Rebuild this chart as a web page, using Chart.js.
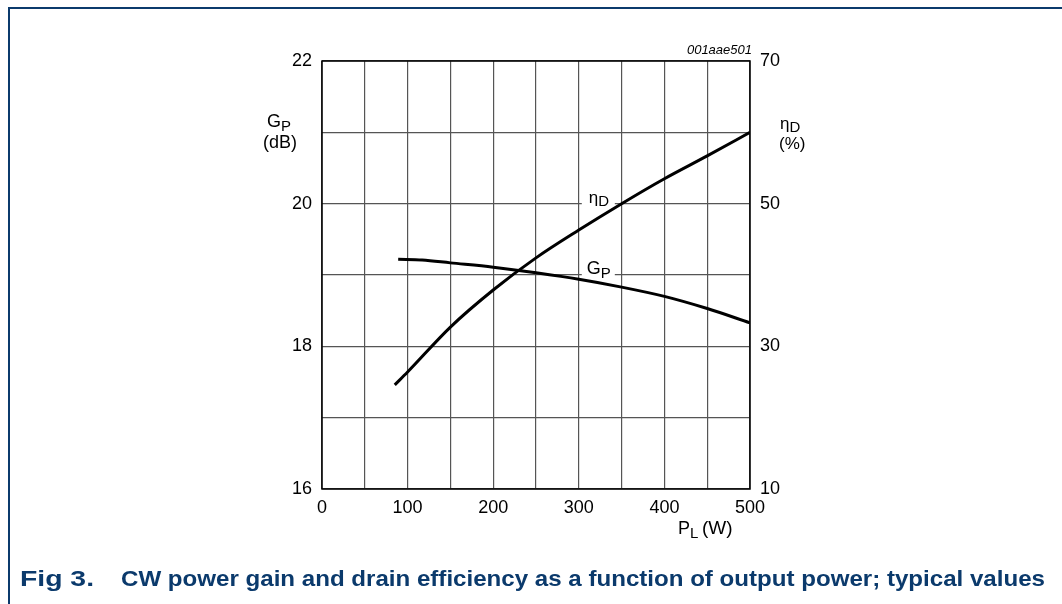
<!DOCTYPE html>
<html>
<head>
<meta charset="utf-8">
<script src="https://cdn.jsdelivr.net/npm/chart.js@4.4.1/dist/chart.umd.min.js"></script>
<style>
  html, body { margin: 0; padding: 0; background: #fff; }
  canvas { display: block; }
</style>
</head>
<body>
<canvas id="myChart" width="1062" height="604"></canvas>
<script>
// values
const plEta = [85, 100, 150, 200, 250, 300, 350, 400, 450, 500];
const eta = [24.6, 26.4, 32.7, 37.9, 42.4, 46.3, 50.0, 53.5, 56.7, 60.0];
const plGp = [89, 117, 150, 200, 250, 300, 350, 400, 450, 500];
const gp = [19.22, 19.21, 19.17, 19.11, 19.03, 18.94, 18.83, 18.70, 18.53, 18.33];

const gpLeftTicks = [16, 18, 20, 22];
const etaRightTicks = [10, 30, 50, 70];

const navy = "#0b3a6c";
const fontFam = "'Liberation Sans', Arial, sans-serif";

Chart.defaults.font.family = fontFam;
Chart.defaults.font.size = 18;
Chart.defaults.color = "#000";

function pts(xs, ys) {
  return xs.map((x, i) => ({ x: x, y: ys[i] }));
}

// text with a subscript, left aligned at x, baseline y
function subText(ctx, main, sub, x, y, size, subSize, drop) {
  ctx.font = size + "px " + fontFam;
  ctx.textAlign = "left";
  ctx.textBaseline = "alphabetic";
  ctx.fillText(main, x, y);
  const w = ctx.measureText(main).width;
  ctx.font = subSize + "px " + fontFam;
  ctx.fillText(sub, x + w, y + drop);
  return w + ctx.measureText(sub).width;
}

// text squeezed or stretched to a given width
function fitText(ctx, txt, x, y, width) {
  ctx.save();
  const w = ctx.measureText(txt).width;
  ctx.translate(x, y);
  ctx.scale(width / w, 1);
  ctx.fillText(txt, 0, 0);
  ctx.restore();
}

const extras = {
  id: "extras",
  beforeDatasetsDraw(chart) {
    const ctx = chart.ctx;
    const a = chart.chartArea;
    const xs = chart.scales.x;
    const ys = chart.scales.y;
    ctx.save();
    // frame of plot
    ctx.strokeStyle = "#000";
    ctx.lineWidth = 1.5;
    ctx.strokeRect(a.left, a.top, a.right - a.left, a.bottom - a.top);

    // curve labels sitting on grid lines
    const lx = xs.getPixelForValue(300);
    ctx.fillStyle = "#fff";
    ctx.fillRect(lx + 3, ys.getPixelForValue(20) - 3, 33, 6);
    ctx.fillRect(lx + 3, ys.getPixelForValue(19) - 3, 33, 6);
    ctx.fillStyle = "#000";
    subText(ctx, "\u03b7", "D", lx + 10, ys.getPixelForValue(20) - 1, 17, 15, 3);
    subText(ctx, "G", "P", lx + 8, ys.getPixelForValue(19) - 1, 18, 15, 4);
    ctx.restore();
  },
  afterDraw(chart) {
    const ctx = chart.ctx;
    const a = chart.chartArea;
    ctx.save();
    ctx.fillStyle = "#000";
    // axis titles
    subText(ctx, "G", "P", a.left - 55, a.top + 66, 18, 15, 4);
    ctx.font = "18px " + fontFam;
    ctx.fillText("(dB)", a.left - 59, a.top + 87);
    subText(ctx, "\u03b7", "D", a.right + 30, a.top + 68, 17, 15, 3);
    ctx.font = "17px " + fontFam;
    ctx.fillText("(%)", a.right + 29, a.top + 88);
    subText(ctx, "P", "L", a.left + 356, a.bottom + 45, 18, 15, 4);
    ctx.font = "19px " + fontFam;
    ctx.fillText("(W)", a.left + 380, a.bottom + 45);

    // figure code
    ctx.font = "italic 13px " + fontFam;
    ctx.textAlign = "right";
    ctx.fillText("001aae501", a.right + 2, a.top - 7);

    // outer page frame
    ctx.strokeStyle = navy;
    ctx.lineWidth = 2;
    ctx.beginPath();
    ctx.moveTo(9, 604);
    ctx.lineTo(9, 8);
    ctx.lineTo(1062, 8);
    ctx.stroke();

    // caption
    ctx.fillStyle = navy;
    ctx.textAlign = "left";
    ctx.font = "bold 22px " + fontFam;
    fitText(ctx, "Fig 3.", 20, 586, 74);
    fitText(ctx, "CW power gain and drain efficiency as a function of output power; typical values", 121, 586, 924);
    ctx.restore();
  }
};

const ctx = document.getElementById("myChart").getContext("2d");
const myChart = new Chart(ctx, {
  type: "line",
  data: {
    datasets: [
      {
        label: "GP",
        data: pts(plGp, gp),
        yAxisID: "y",
        borderColor: "#000",
        borderWidth: 3,
        pointRadius: 0,
        cubicInterpolationMode: "monotone",
        fill: false,
      },
      {
        label: "etaD",
        data: pts(plEta, eta),
        yAxisID: "y2",
        borderColor: "#000",
        borderWidth: 3,
        pointRadius: 0,
        cubicInterpolationMode: "monotone",
        fill: false,
      },
    ],
  },
  options: {
    responsive: false,
    animation: false,
    layout: { padding: { left: 0, right: 0, top: 61, bottom: 0 } },
    plugins: { legend: { display: false }, tooltip: { enabled: false } },
    scales: {
      x: {
        type: "linear",
        min: 0,
        max: 500,
        afterFit(s) { s.height = 115; },
        ticks: { stepSize: 50, padding: 8, maxRotation: 0,
          callback: v => (v % 100 === 0 ? v : "") },
        grid: { color: "#555", lineWidth: 1.2, drawTicks: false },
        border: { display: false },
      },
      y: {
        position: "left",
        min: 16,
        max: 22,
        afterFit(s) { s.width = 322; },
        ticks: { stepSize: 1, padding: 10,
          callback: v => (gpLeftTicks.includes(v) ? v : "") },
        grid: { color: "#555", lineWidth: 1.2, drawTicks: false },
        border: { display: false },
      },
      y2: {
        position: "right",
        min: 10,
        max: 70,
        afterFit(s) { s.width = 312; },
        ticks: { stepSize: 10, padding: 10,
          callback: v => (etaRightTicks.includes(v) ? v : "") },
        grid: { display: false, drawTicks: false },
        border: { display: false },
      },
    },
  },
  plugins: [extras],
});
</script>
</body>
</html>
